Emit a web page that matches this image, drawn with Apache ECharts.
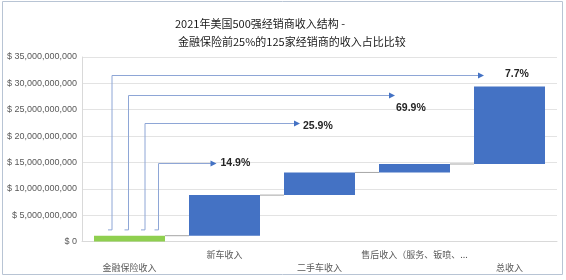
<!DOCTYPE html>
<html>
<head>
<meta charset="utf-8">
<script src="https://cdn.jsdelivr.net/npm/echarts@6/dist/echarts.min.js"></script>
<style>
  html, body { margin: 0; padding: 0; background: #fff; }
  #chart { width: 566px; height: 280px; }
</style>
</head>
<body>
<div id="chart"></div>
<script>
const categories = ['金融保险收入', '新车收入', '二手车收入', '售后收入（服务、钣喷、...', '总收入']
const increments = [1.1e9, 7.7e9, 4.3e9, 1.6e9, 14.7e9]
const ratioLabels = ['7.7%', '69.9%', '25.9%', '14.9%']
const ratioTargets = [4, 3, 2, 1]
const ratioLevels = [31.5e9, 27.8e9, 22.5e9, 14.9e9]
const ratioStart = 2.2e9

// waterfall bases
const bases = []
let run = 0
for (let i = 0; i < increments.length; i++) {
  bases.push(run)
  run += increments[i]
}

const barW = 71
// pixel layout of the arrow annotations
const arrowStartDx = [-17.5, -1, 15.5, 29]
const arrowEndDx = [-25.5, -19.5, -19.5, -8]
const labelDx = [21, 1, 3, 4]
const labelDy = [-1, 13, 3, 0]

const chart = echarts.init(document.getElementById('chart'))

const option = {
  animation: false,
  title: [
    { text: '2021年美国500强经销商收入结构 -', left: 170, top: 13,
      textStyle: { fontSize: 11, fontWeight: 'normal', color: '#1a1a1a', fontFamily: 'Noto Sans CJK SC' } },
    { text: '金融保险前25%的125家经销商的收入占比比较', left: 173, top: 31,
      textStyle: { fontSize: 11, fontWeight: 'normal', color: '#1a1a1a', fontFamily: 'Noto Sans CJK SC' } }
  ],
  graphic: [{
    type: 'rect', shape: { x: 2.5, y: 1.5, width: 560, height: 273 },
    style: { fill: 'none', stroke: '#b8c4d4', lineWidth: 1 }, silent: true
  }],
  grid: { left: 82, right: 9, top: 57, bottom: 38.5 },
  xAxis: {
    type: 'category',
    data: categories,
    axisLine: { show: true, lineStyle: { color: '#d9d9d9' } },
    axisTick: { show: false },
    axisLabel: {
      interval: 0,
      margin: 7,
      fontSize: 9,
      lineHeight: 12.5,
      color: '#595959',
      fontFamily: 'Noto Sans CJK SC',
      formatter: (v, i) => (i % 2 === 0 ? '\n' + v : v)
    }
  },
  yAxis: {
    type: 'value',
    min: 0,
    max: 35e9,
    interval: 5e9,
    axisLine: { show: true, lineStyle: { color: '#d9d9d9' } },
    axisTick: { show: false },
    splitLine: { lineStyle: { color: '#e3e3e3' } },
    axisLabel: {
      margin: 5,
      fontSize: 9,
      color: '#595959',
      fontFamily: 'Liberation Sans',
      formatter: v => '$ ' + v.toLocaleString('en-US')
    }
  },
  series: [
    {
      type: 'bar', stack: 'w', barWidth: barW, silent: true,
      itemStyle: { color: 'transparent' },
      data: bases
    },
    {
      type: 'bar', stack: 'w', barWidth: barW,
      data: increments.map((v, i) => ({
        value: v,
        itemStyle: { color: i === 0 ? '#8fcf4f' : '#4472c4' }
      }))
    },
    {
      type: 'custom',
      clip: false,
      silent: true,
      data: bases.slice(1).map((b, i) => [i, b]),
      renderItem: (params, api) => {
        const i = api.value(0)
        const a = api.coord([i, api.value(1)])
        const b = api.coord([i + 1, api.value(1)])
        return {
          type: 'line',
          shape: { x1: a[0] + barW / 2, y1: a[1], x2: b[0] - barW / 2, y2: b[1] },
          style: { stroke: '#a6a6a6', lineWidth: 1 }
        }
      }
    },
    {
      type: 'custom',
      clip: false,
      silent: true,
      data: ratioLevels.map((lv, i) => [i, lv, ratioTargets[i]]),
      renderItem: (params, api) => {
        const k = api.value(0)
        const top = api.coord([0, api.value(1)])
        const bot = api.coord([0, ratioStart])
        const end = api.coord([api.value(2), api.value(1)])
        const x0 = top[0] + arrowStartDx[k]
        const x1 = end[0] + arrowEndDx[k]
        const y = Math.round(top[1]) + 0.5
        const yb = bot[1]
        return {
          type: 'group',
          children: [
            {
              type: 'polyline',
              shape: { points: [[x0 - 4, yb], [x0, yb], [x0, y], [x1 - 5, y]] },
              style: { stroke: '#8ea6d6', lineWidth: 1, fill: 'none' }
            },
            {
              type: 'polygon',
              shape: { points: [[x1, y], [x1 - 6, y - 3], [x1 - 6, y + 3]] },
              style: { fill: '#4472c4' }
            },
            {
              type: 'text',
              style: {
                x: x1 + labelDx[k], y: y + labelDy[k],
                text: ratioLabels[k],
                fill: '#262626',
                font: 'bold 10.5px "Liberation Sans", Arial',
                verticalAlign: 'middle',
                align: 'left'
              }
            }
          ]
        }
      }
    }
  ]
}

chart.setOption(option)
</script>
</body>
</html>
